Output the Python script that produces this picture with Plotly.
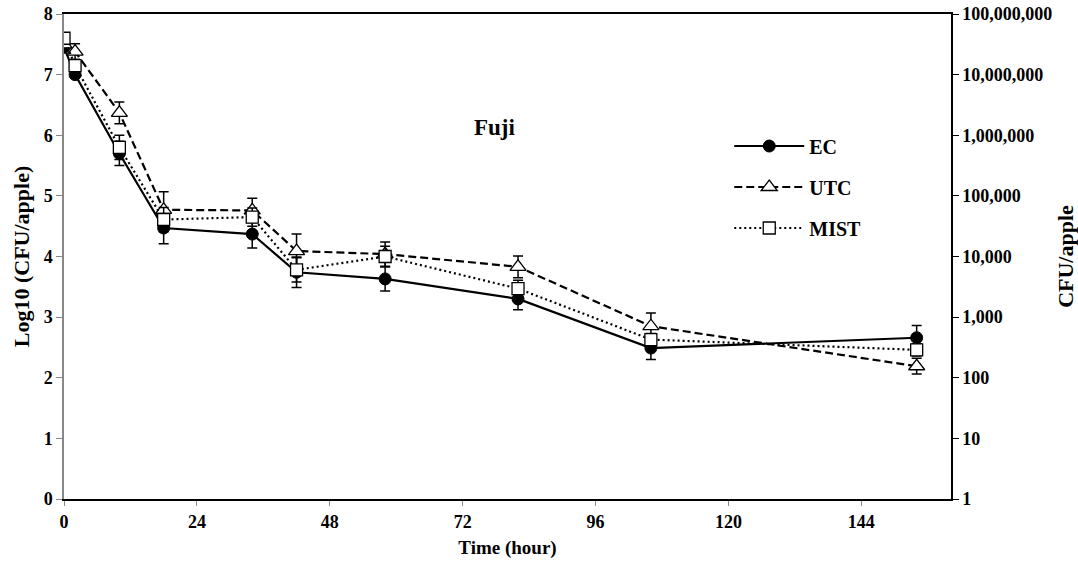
import plotly.graph_objects as go

hours = [0, 2, 10, 18, 34, 42, 58, 82, 106, 154]
ec = [7.45, 7.00, 5.70, 4.47, 4.37, 3.74, 3.63, 3.30, 2.49, 2.66]
ec_err = [0.05, 0.06, 0.20, 0.26, 0.23, 0.25, 0.20, 0.18, 0.19, 0.20]
utc = [7.50, 7.38, 6.37, 4.77, 4.76, 4.09, 4.04, 3.83, 2.85, 2.19]
utc_err = [0.05, 0.13, 0.18, 0.30, 0.20, 0.28, 0.20, 0.18, 0.22, 0.13]
mist = [7.60, 7.15, 5.80, 4.61, 4.65, 3.78, 4.00, 3.47, 2.63, 2.46]
mist_err = [0.05, 0.10, 0.20, 0.20, 0.15, 0.20, 0.17, 0.14, 0.10, 0.10]

x_ticks = [0, 24, 48, 72, 96, 120, 144]
y_ticks = [0, 1, 2, 3, 4, 5, 6, 7, 8]
cfu_ticks = [1, 10, 100, 1000, 10000, 100000, 1000000, 10000000, 100000000]
cfu_labels = ["1", "10", "100", "1,000", "10,000", "100,000", "1,000,000", "10,000,000", "100,000,000"]

FONT = "Liberation Serif"
TICK = dict(family=FONT, size=18, color="black", weight="bold")

fig = go.Figure()

def err(vals):
    return dict(type="data", array=vals, visible=True, color="black", thickness=1.5, width=5)

fig.add_trace(go.Scatter(
    x=hours, y=ec, name="EC", mode="lines+markers",
    line=dict(color="black", width=2.2, dash="solid"),
    marker=dict(symbol="circle", size=12, color="black", line=dict(color="black", width=1)),
    error_y=err(ec_err), legendgroup="a"))
fig.add_trace(go.Scatter(
    x=hours, y=utc, name="UTC", mode="lines+markers",
    line=dict(color="black", width=2.2, dash="8px,4px"),
    marker=dict(symbol="triangle-up", size=14, color="white", line=dict(color="black", width=1.3)),
    error_y=err(utc_err), legendgroup="b"))
fig.add_trace(go.Scatter(
    x=hours, y=mist, name="MIST", mode="lines+markers",
    line=dict(color="black", width=2.2, dash="2px,3px"),
    marker=dict(symbol="square", size=12, color="white", line=dict(color="black", width=1.3)),
    error_y=err(mist_err), legendgroup="c"))

# invisible trace to activate the secondary (CFU/apple) axis
fig.add_trace(go.Scatter(
    x=hours, y=[10 ** v for v in ec], yaxis="y2", mode="markers",
    marker=dict(opacity=0), showlegend=False, hoverinfo="skip"))

fig.update_layout(
    width=1078, height=571,
    margin=dict(l=64, r=127, t=14, b=72),
    paper_bgcolor="white", plot_bgcolor="white",
    font=dict(family=FONT, size=18, color="black"),
    showlegend=True,
    legend=dict(x=0.75, y=0.768, xanchor="left", yanchor="top",
                bgcolor="rgba(0,0,0,0)", itemwidth=70, tracegroupgap=12,
                font=dict(family=FONT, size=20, color="black", weight="bold")),
    xaxis=dict(
        range=[0, 160.2], tickmode="array", tickvals=x_ticks,
        showgrid=False, zeroline=False,
        showline=True, linecolor="black", linewidth=2, mirror=True,
        ticks="outside", ticklen=5, tickcolor="#888888", tickwidth=1,
        title=dict(text="Time (hour)", font=dict(family=FONT, size=19, weight="bold"), standoff=10),
        tickfont=TICK, automargin=False),
    yaxis=dict(
        range=[0, 8], tickmode="array", tickvals=y_ticks,
        showgrid=False, zeroline=False,
        showline=True, linecolor="#888888", linewidth=1.5,
        ticks="outside", ticklen=6, tickcolor="#888888", tickwidth=1,
        title=dict(text="Log10 (CFU/apple)", font=dict(family=FONT, size=22, weight="bold"), standoff=8),
        tickfont=TICK, automargin=False),
    yaxis2=dict(
        type="log", range=[0, 8], overlaying="y", side="right",
        tickmode="array", tickvals=cfu_ticks, ticktext=cfu_labels,
        showgrid=False, zeroline=False,
        showline=True, linecolor="black", linewidth=1.5,
        ticks="outside", ticklen=6, tickcolor="black", tickwidth=1,
        title=dict(text="CFU/apple", font=dict(family=FONT, size=22, weight="bold"), standoff=6),
        tickfont=TICK, automargin=False),
    annotations=[dict(text="Fuji", x=0.486, y=0.796, xref="paper", yref="paper",
                      showarrow=False, font=dict(family=FONT, size=23, color="black", weight="bold"))],
)

fig.write_html("out.html")
